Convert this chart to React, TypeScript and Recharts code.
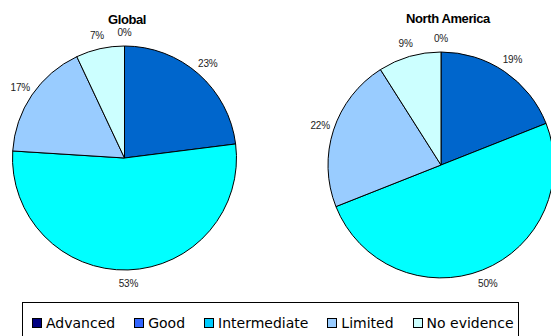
import React from 'react';
import { PieChart, Pie, Cell } from 'recharts';

const categories = ['Advanced', 'Good', 'Intermediate', 'Limited', 'No evidence'];
const globalValues = [0, 23, 53, 17, 7];
const northAmericaValues = [0, 19, 50, 22, 9];

const SLICE_COLORS = ['#000080', '#0066CC', '#00FFFF', '#99CCFF', '#CCFFFF'];
const LEGEND_COLORS = ['#000080', '#3366FF', '#00CCFF', '#99CCFF', '#CCFFFF'];

const RADIAN = Math.PI / 180;

const toData = (values: number[]) =>
  categories.map((name, i) => ({ name, value: values[i] }));

const renderLabel = (props: any) => {
  const { cx, cy, midAngle, outerRadius, value } = props;
  const r = outerRadius + 14;
  const x = cx + r * Math.cos(-midAngle * RADIAN);
  const y = cy + r * Math.sin(-midAngle * RADIAN);
  return (
    <text
      x={x}
      y={y}
      fill="#222"
      fontSize={10}
      fontFamily="'Liberation Sans', Arial, sans-serif"
      textAnchor="middle"
      dominantBaseline="central"
      letterSpacing={-0.2}
    >
      {value}%
    </text>
  );
};

const titleStyle: React.CSSProperties = {
  position: 'absolute',
  fontFamily: "'Liberation Sans', Arial, sans-serif",
  fontWeight: 'bold',
  fontSize: 13,
  letterSpacing: -0.4,
  color: '#000',
  transform: 'translateX(-50%)',
  whiteSpace: 'nowrap',
};

export default function App() {
  return (
    <div style={{ position: 'absolute', left: 0, top: 0, width: 551, height: 336, overflow: 'hidden', background: '#fff' }}>
      <div style={{ ...titleStyle, left: 127, top: 12 }}>Global</div>
      <div style={{ ...titleStyle, left: 448, top: 11 }}>North America</div>
      <PieChart width={551} height={300} margin={{ top: 0, right: 0, bottom: 0, left: 0 }}>
        <Pie
          data={toData(globalValues)}
          dataKey="value"
          nameKey="name"
          cx={124.5}
          cy={158}
          outerRadius={112}
          startAngle={90}
          endAngle={-270}
          stroke="#000"
          strokeWidth={1}
          label={renderLabel}
          labelLine={false}
          isAnimationActive={false}
        >
          {categories.map((c, i) => (
            <Cell key={c} fill={SLICE_COLORS[i]} />
          ))}
        </Pie>
        <Pie
          data={toData(northAmericaValues)}
          dataKey="value"
          nameKey="name"
          cx={441}
          cy={165}
          outerRadius={113}
          startAngle={90}
          endAngle={-270}
          stroke="#000"
          strokeWidth={1}
          label={renderLabel}
          labelLine={false}
          isAnimationActive={false}
        >
          {categories.map((c, i) => (
            <Cell key={c} fill={SLICE_COLORS[i]} />
          ))}
        </Pie>
      </PieChart>
      <div
        style={{
          position: 'absolute',
          left: 22,
          top: 302,
          width: 497,
          height: 40,
          border: '1px solid #000',
          display: 'flex',
          alignItems: 'flex-start',
          paddingLeft: 9,
          paddingTop: 12,
          boxSizing: 'border-box',
          fontFamily: "'DejaVu Sans', Verdana, sans-serif",
          fontSize: 14,
          color: '#000',
          gap: 19,
        }}
      >
        {categories.map((c, i) => (
          <div key={c} style={{ display: 'flex', alignItems: 'center', lineHeight: '16px' }}>
            <span
              style={{
                display: 'inline-block',
                width: 8,
                height: 8,
                border: '1px solid #000',
                background: LEGEND_COLORS[i],
                marginRight: 4,
              }}
            />
            {c}
          </div>
        ))}
      </div>
    </div>
  );
}
